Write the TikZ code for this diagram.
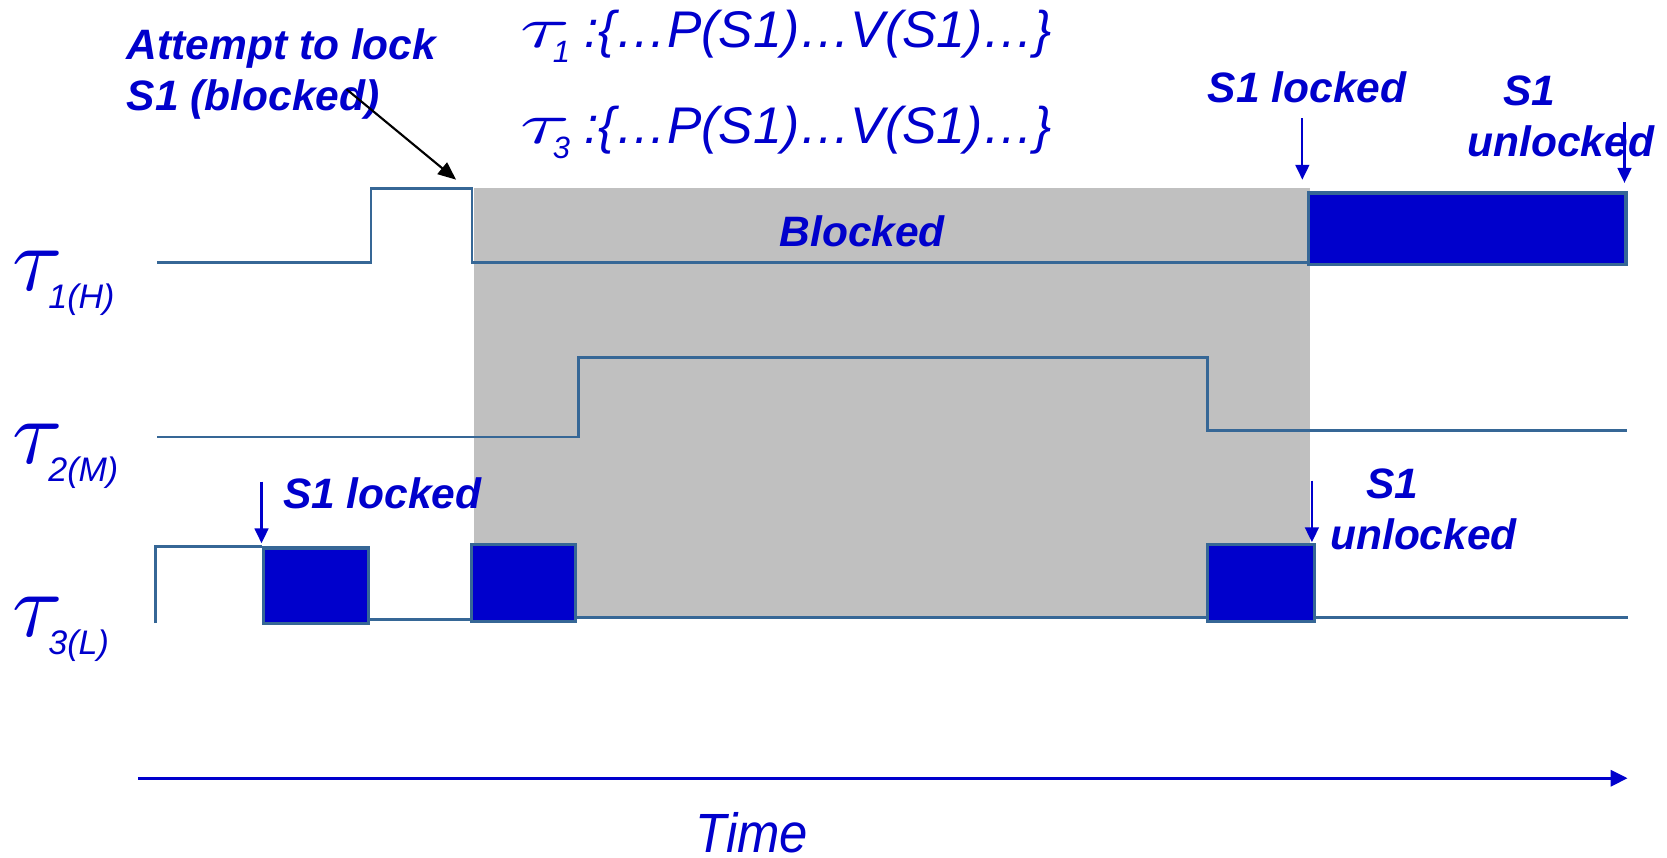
\documentclass[tikz,border=0pt]{standalone}
\usepackage{fontspec}
\usepackage{graphicx}
\setmainfont{Liberation Sans}
\usetikzlibrary{arrows.meta}
\definecolor{ink}{RGB}{0,0,204}
\definecolor{wave}{RGB}{54,103,150}
\definecolor{zonegray}{RGB}{192,192,192}
% tau set at 10pt, then scaled up
\newcommand\plaintau{{\fontsize{10}{12}\selectfont$\tau$}}
% task name: big tau with an italic sans subscript tucked under its hook
\newcommand\tasklbl[2]{\scalebox{8.6}{\plaintau}\kern-14pt\raisebox{-17pt}{\fontsize{32}{32}\selectfont\itshape #1(#2)}}
% tau with subscript inside the code lines
\newcommand\codetau[1]{\scalebox{8.5}[5.5]{\plaintau}\kern-16pt\raisebox{-14pt}{\fontsize{29}{29}\selectfont #1}}
\begin{document}
\begin{tikzpicture}[x=1pt,y=-1pt,
  waveline/.style={draw=wave,line width=2.6pt},
  busy/.style={fill=ink,draw=wave,line width=3pt,inner sep=0pt,anchor=north west},
  tag/.style={text=ink,inner sep=0pt,font=\fontsize{40}{48}\selectfont\bfseries\itshape},
  code/.style={text=ink,inner sep=0pt,anchor=base west,font=\fontsize{48.5}{50}\selectfont\itshape},
  tasklabel/.style={text=ink,inner sep=0pt,anchor=base west},
  pin/.style={draw=ink,line width=2pt,-{Triangle[length=14pt,width=13pt]}},
  pointer/.style={draw=black,line width=2pt,-{Triangle[length=17pt,width=14pt]}},
  timeaxis/.style={draw=ink,line width=3.2pt,-{Triangle[length=16pt,width=15pt]}},
]
\useasboundingbox (0,0) rectangle (1568,807);

% interval during which the high priority task is blocked
\fill[zonegray] (446,177) rectangle (1232,580);

% task 1 (high)
\draw[waveline] (148,247) -- (349,247) -- (349,177) -- (444,177) -- (444,247) -- (1229,247);
\node[busy,minimum width=299pt,minimum height=67pt] (h1) at (1229,180) {};

% task 2 (medium)
\draw[waveline] (148,411) -- (544,411) -- (544,336) -- (1136,336) -- (1136,405) -- (1530,405);

% task 3 (low)
\draw[waveline] (146,586) -- (146,514) -- (246,514);
\node[busy,minimum width=99pt,minimum height=71pt] (l1) at (246,514) {};
\draw[waveline] (345,583) -- (442,583);
\node[busy,minimum width=98pt,minimum height=72pt] (l2) at (442,511) {};
\draw[waveline] (540,581) -- (1134,581);
\node[busy,minimum width=101pt,minimum height=72pt] (l3) at (1134,511) {};
\draw[waveline] (1235,581) -- (1531,581);

% task names
\node[tasklabel] (t1) at (12,273) {\tasklbl{1}{H}};
\node[tasklabel] (t2) at (12,436) {\tasklbl{2}{M}};
\node[tasklabel] (t3) at (12,599) {\tasklbl{3}{L}};

% code of the two tasks sharing S1
\node[code] (f1) at (489,45) {\codetau{1} :\{…P(S1)…V(S1)…\}};
\node[code] (f3) at (489,135) {\codetau{3} :\{…P(S1)…V(S1)…\}};

% annotations (base anchor of a two-line node sits on its last line)
\node[tag,anchor=base west,align=left] (attempt) at (119,104) {Attempt to lock\\S1 (blocked)};
\node[tag,anchor=base west] (blk) at (733,232) {Blocked};
\node[tag,anchor=base west] (lockH) at (1136,96) {S1 locked};
\node[tag,anchor=base west,align=left] (unlockH) at (1380,147) {\hspace*{34pt}S1\\unlocked};
\node[tag,anchor=base west] (lockL) at (266,478) {S1 locked};
\node[tag,anchor=base west,align=left] (unlockL) at (1251,517) {\hspace*{34pt}S1\\unlocked};

\coordinate (aAttempt) at (326,84);
\coordinate (eAttempt) at (429,169);
\draw[pointer] (aAttempt) -- (eAttempt);

\coordinate (aLockH) at (1225,111);
\draw[pin,shorten >=11pt] (aLockH) -- (aLockH |- h1.north west);
\coordinate (aUnlockH) at (1528,115);
\draw[pin,shorten >=8pt] (aUnlockH) -- (aUnlockH |- h1.north east);
\coordinate (aLockL) at (246,453);
\draw[pin,shorten >=3pt] (aLockL) -- (aLockL |- l1.north west);
\coordinate (aUnlockL) at (1234,452);
\draw[pin,shorten >=1pt] (aUnlockL) -- (aUnlockL |- l3.north east);

% time axis
\coordinate (t0) at (130,732);
\coordinate (tEnd) at (1531,732);
\draw[timeaxis] (t0) -- (tEnd);
\node[text=ink,inner sep=0pt,anchor=base west,font=\fontsize{52}{52}\selectfont\itshape] (time) at (654,802) {\scalebox{0.92}[1]{Time}};
\end{tikzpicture}
\end{document}
